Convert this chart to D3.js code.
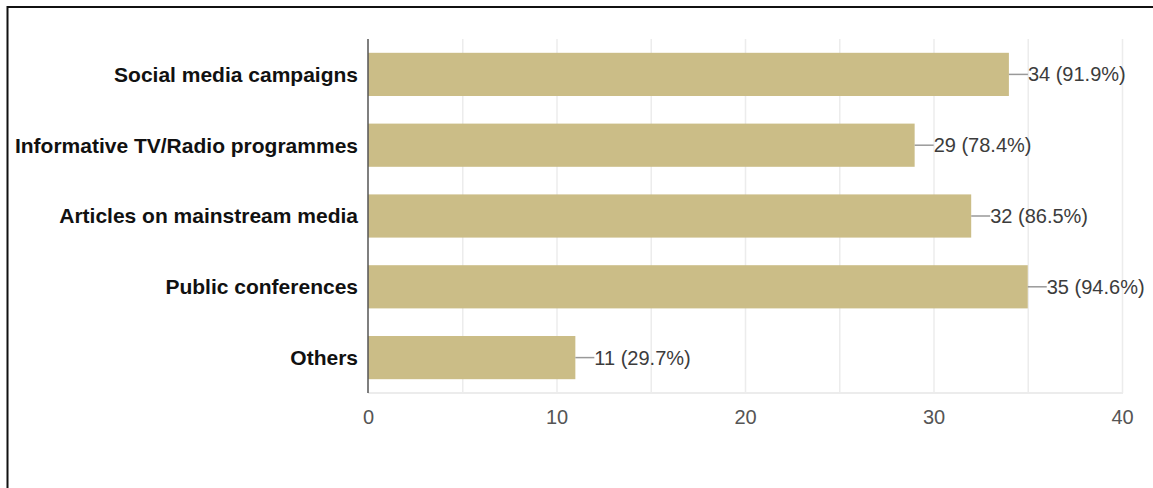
<!DOCTYPE html>
<html>
<head>
<meta charset="utf-8">
<script src="https://cdn.jsdelivr.net/npm/d3@7"></script>
<style>
  html, body { margin: 0; padding: 0; background: #fff; }
  svg { display: block; }
</style>
</head>
<body>
<svg id="chart" width="1153" height="488"></svg>
<script>
// Survey responses: how awareness should be raised
const categories = [
  "Social media campaigns",
  "Informative TV/Radio programmes",
  "Articles on mainstream media",
  "Public conferences",
  "Others"
];
const counts = [34, 29, 32, 35, 11];
const percents = ["91.9%", "78.4%", "86.5%", "94.6%", "29.7%"];
const xTicks = [0, 10, 20, 30, 40];
const gridValues = [5, 10, 15, 20, 25, 30, 35, 40];

const svg = d3.select("#chart");

// outer frame (top and left edges)
svg.append("line").attr("x1", 7).attr("x2", 1153).attr("y1", 7).attr("y2", 7)
  .attr("stroke", "#111").attr("stroke-width", 2);
svg.append("line").attr("x1", 7.5).attr("x2", 7.5).attr("y1", 6).attr("y2", 488)
  .attr("stroke", "#111").attr("stroke-width", 2);

const plotLeft = 368, plotRight = 1122, plotTop = 39, plotBottom = 393;

const x = d3.scaleLinear().domain([0, 40]).range([plotLeft, plotRight]);
const y = d3.scaleBand().domain(categories).range([plotTop, plotBottom]).paddingInner(0.39).paddingOuter(0.195);

// vertical gridlines
svg.append("g").selectAll("line").data(gridValues).join("line")
  .attr("x1", d => x(d) + 0.5).attr("x2", d => x(d) + 0.5)
  .attr("y1", plotTop).attr("y2", plotBottom)
  .attr("stroke", "#ececec").attr("stroke-width", 1.5);
// bottom baseline of plot
svg.append("line").attr("x1", plotLeft).attr("x2", plotRight + 1)
  .attr("y1", plotBottom).attr("y2", plotBottom)
  .attr("stroke", "#ececec").attr("stroke-width", 2);

// bars
svg.append("g").selectAll("rect").data(categories).join("rect")
  .attr("x", x(0))
  .attr("y", d => y(d))
  .attr("width", (d, i) => x(counts[i]) - x(0))
  .attr("height", y.bandwidth())
  .attr("fill", "#cbbd87");

// left axis line
svg.append("line").attr("x1", plotLeft).attr("x2", plotLeft).attr("y1", plotTop).attr("y2", plotBottom)
  .attr("stroke", "#555").attr("stroke-width", 1.5);

// category labels
svg.append("g").selectAll("text").data(categories).join("text")
  .attr("x", plotLeft - 10)
  .attr("y", d => y(d) + y.bandwidth() / 2)
  .attr("dy", "0.35em")
  .attr("text-anchor", "end")
  .attr("font-family", "Liberation Sans, Arial, sans-serif")
  .attr("font-weight", "bold")
  .attr("font-size", 21)
  .attr("fill", "#111")
  .text(d => d);

// leader lines and value labels
const labels = svg.append("g");
categories.forEach((c, i) => {
  const cy = y(c) + y.bandwidth() / 2;
  const x0 = x(counts[i]);
  labels.append("line")
    .attr("x1", x0).attr("x2", x0 + 19)
    .attr("y1", cy).attr("y2", cy)
    .attr("stroke", "#999").attr("stroke-width", 1.5);
  labels.append("text")
    .attr("x", x0 + 19)
    .attr("y", cy)
    .attr("dy", "0.35em")
    .attr("font-family", "Liberation Sans, Arial, sans-serif")
    .attr("font-size", 20)
    .attr("fill", "#3c3c3c")
    .text(`${counts[i]} (${percents[i]})`);
});

// x axis tick labels
const xAxis = d3.axisBottom(x).tickValues(xTicks).tickSize(0).tickPadding(0);
const gx = svg.append("g").attr("transform", `translate(0,${plotBottom + 17})`).call(xAxis);
gx.select(".domain").remove();
gx.selectAll("text")
  .attr("font-family", "Liberation Sans, Arial, sans-serif")
  .attr("font-size", 20)
  .attr("fill", "#555");
</script>
</body>
</html>
